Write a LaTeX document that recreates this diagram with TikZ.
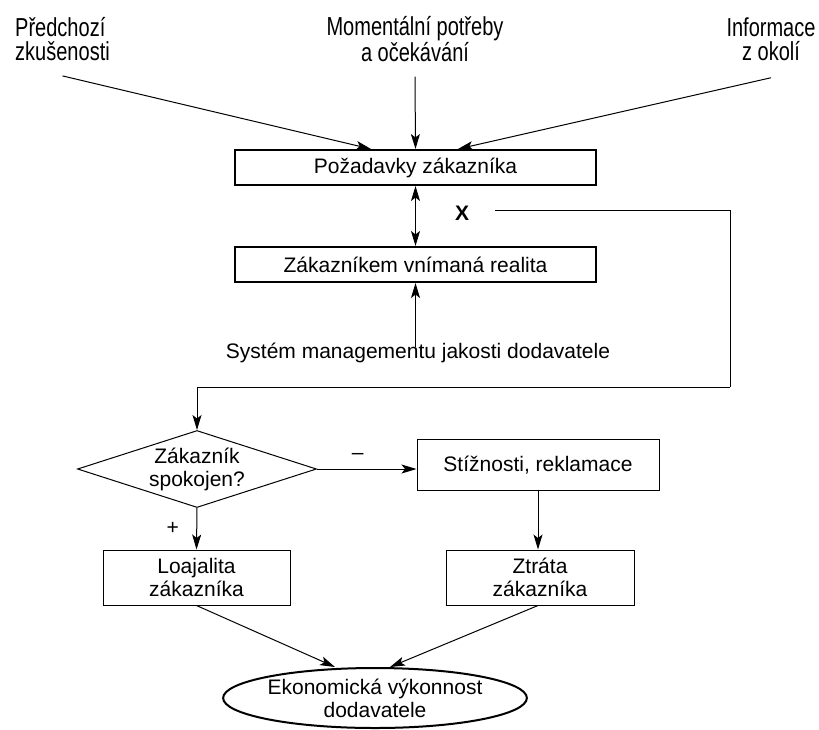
\documentclass[tikz,border=0pt]{standalone}
\usepackage{fontspec}
\setmainfont{Liberation Sans}
\newfontfamily\tallfont[FakeStretch=0.77]{Liberation Sans}
\usetikzlibrary{arrows.meta, shapes.geometric, positioning}

\tikzset{
	>={Stealth[length=15pt, width=9pt, inset=3.5pt]},
	txt/.style={font=\fontsize{21}{23}\selectfont, inner sep=0pt, align=center},
	toplabel/.style={font=\tallfont\fontsize{26}{24}\selectfont, inner sep=0pt, align=center},
	thickbox/.style={txt, draw, line width=2pt, minimum width=361pt, minimum height=35pt},
	thinbox/.style={txt, draw, line width=1pt, minimum height=55pt},
	arr/.style={->, line width=1pt},
}

\begin{document}
\begin{tikzpicture}[x=1pt, y=-1pt]
		\useasboundingbox (0,0) rectangle (819,729);
		% sources of the requirements
		\node [toplabel, align=left] (prev) at (62.5,39) {Předchozí\\zkušenosti};
		\node [toplabel] (needs) at (415,39) {Momentální potřeby\\a očekávání};
		\node [toplabel] (info) at (771,39) {Informace\\z okolí};
		% requirements and reality
		\node [thickbox] (req) at (415.5,167.5) {Požadavky zákazníka};
		\node [thickbox] (real) at (415.5,264.5) {Zákazníkem vnímaná realita};
		\node [txt, font=\fontsize{21}{23}\selectfont\bfseries] (xmark) at (462,213) {X};
		\node [txt] (sys) at (418,353) {Systém managementu jakosti dodavatele};
		% decision
		\node [txt, shape=diamond, draw, line width=1pt, aspect=3.1, minimum width=239pt, minimum height=77pt] (sat) at (197,469) {Zákazník\\spokojen?};
		\node [thinbox, minimum width=242pt, minimum height=51pt] (compl) at (538,465) {Stížnosti, reklamace};
		\node [thinbox, minimum width=187pt] (loyal) at (196.5,577.5) {Loajalita\\zákazníka};
		\node [thinbox, minimum width=188pt] (loss) at (540,577.5) {Ztráta\\zákazníka};
		\node [txt, shape=ellipse, draw, line width=2pt, minimum width=246pt, minimum height=60pt] (econ) at (375,698) {Ekonomická výkonnost\\dodavatele};

		% arrows into the requirements
		\draw[arr] ([yshift=-15pt]prev.south) -- ([xshift=-44.5pt]req.north);
		\draw[arr] ([yshift=-15pt]needs.south) -- (req.north);
		\draw[arr] ([yshift=-17pt]info.south) -- ([xshift=42.5pt]req.north);
		% comparison
		\draw[<->, line width=1pt] (req.south) -- (real.north);
		\draw[arr] ([yshift=-4pt]real.south |- sys.north) -- (real.south);
		\draw[line width=1pt] ([xshift=26pt, yshift=3pt]xmark.east) -| (730,387);
		\draw[arr] (730,387) -| (sat.north);
		% outcomes
		\draw[arr] (sat.east) -- (sat.east -| compl.west) node [pos=0.41, above=6pt] {\fontsize{21}{23}\selectfont –};
		\draw[arr] (sat.south) -- (loyal.north) node [midway, left=14pt] {\fontsize{21}{23}\selectfont +};
		\draw[arr] (compl.south) -- (compl.south |- loss.north);
		\draw[arr] (loyal.south) -- ([xshift=-40pt]econ.north);
		\draw[arr] ([xshift=-2pt]loss.south) -- ([xshift=15pt]econ.north);
	\end{tikzpicture}
\end{document}
